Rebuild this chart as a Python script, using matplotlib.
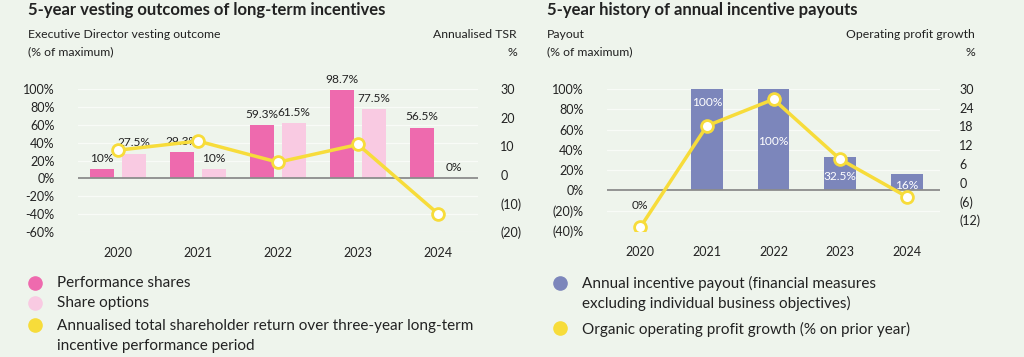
import matplotlib
matplotlib.use("Agg")
import matplotlib.pyplot as plt
import numpy as np

plt.rcParams["font.family"] = ["Lato", "DejaVu Sans"]

# Data
years = ["2020", "2021", "2022", "2023", "2024"]
perf_shares = [10, 29.3, 59.3, 98.7, 56.5]
share_options = [27.5, 10, 61.5, 77.5, 0]
tsr = [8.6, 11.8, 4.4, 10.6, -13.6]

payout = [0, 100, 100, 32.5, 16]
profit_growth = [-14.3, 18.2, 26.7, 7.5, -4.5]

left_ticks = [100, 80, 60, 40, 20, 0, -20, -40, -60]
left_ticklabels = ["100%", "80%", "60%", "40%", "20%", "0%", "-20%", "-40%", "-60%"]
tsr_ticks = [30, 20, 10, 0, -10, -20]
tsr_ticklabels = ["30", "20", "10", "0", "(10)", "(20)"]

right_ticks = [100, 80, 60, 40, 20, 0, -20, -40]
right_ticklabels = ["100%", "80%", "60%", "40%", "20%", "0%", "(20)%", "(40)%"]
growth_ticks = [30, 24, 18, 12, 6, 0, -6, -12]
growth_ticklabels = ["30", "24", "18", "12", "6", "0", "(6)", "(12)"]

# Colours
BG = "#eef4ec"
PINK = "#ee6aae"
LIGHT_PINK = "#f9cae2"
YELLOW = "#f7dc3a"
BLUE = "#7c86bb"
TEXT = "#222222"
GRID = "#f8fbf7"
ZERO = "#8c8c8c"

W, H = 1024, 357
fig = plt.figure(figsize=(W / 100, H / 100), dpi=100, facecolor=BG)


def fx(px):
    return px / W


def fy(py):
    return 1 - py / H


def axes_px(x0, x1, y0, y1):
    return fig.add_axes([fx(x0), fy(y1), fx(x1 - x0), (y1 - y0) / H])


def style_axes(ax, ax2, ticks, labels, ticks2, labels2, pad_l, pad_r):
    for a in (ax, ax2):
        a.set_facecolor("none")
        for s in a.spines.values():
            s.set_visible(False)
    ax.set_yticks(ticks)
    ax.set_yticklabels(labels)
    ax2.set_yticks(ticks2)
    ax2.set_yticklabels(labels2)
    ax.tick_params(axis="y", length=0, pad=pad_l, labelsize=9, labelcolor=TEXT)
    ax2.tick_params(axis="y", length=0, pad=pad_r, labelsize=9, labelcolor=TEXT)
    ax.tick_params(axis="x", length=0, pad=11, labelsize=9, labelcolor=TEXT)
    for t in ticks:
        if t == 0:
            ax.axhline(0, color=ZERO, lw=1.3, zorder=3)
        else:
            ax.axhline(t, color=GRID, lw=0.9, zorder=0)


x = np.arange(len(years))

# ---------- Left chart ----------
ax = axes_px(78, 478, 89, 232)
ax.set_xlim(-0.5, 4.5)
ax.set_ylim(-60, 100)
ax.bar(x - 0.2, perf_shares, width=0.3, color=PINK, lw=0, zorder=2)
ax.bar(x + 0.2, share_options, width=0.3, color=LIGHT_PINK, lw=0, zorder=2)
ax.set_xticks(x)
ax.set_xticklabels(years)
for i in range(len(years)):
    ax.annotate(f"{perf_shares[i]:g}%", (x[i] - 0.2, perf_shares[i]), xytext=(0, 4),
                textcoords="offset points", ha="center", va="bottom", fontsize=8.6, color=TEXT, zorder=5)
    ax.annotate(f"{share_options[i]:g}%", (x[i] + 0.2, share_options[i]), xytext=(0, 4),
                textcoords="offset points", ha="center", va="bottom", fontsize=8.6, color=TEXT, zorder=5)

ax2 = ax.twinx()
ax2.set_ylim(-20, 30)
ax2.plot(x, tsr, color=YELLOW, lw=2.5, marker="o", ms=8.5, mfc="white", mec=YELLOW, mew=2, zorder=4)
style_axes(ax, ax2, left_ticks, left_ticklabels, tsr_ticks, tsr_ticklabels, 17, 16)

# ---------- Right chart ----------
bx = axes_px(607, 940, 89, 231)
bx.set_xlim(-0.5, 4.5)
bx.set_ylim(-40, 100)
bx.bar(x, payout, width=0.48, color=BLUE, lw=0, zorder=2)
bx.set_xticks(x)
bx.set_xticklabels(years)
# label offsets (points from bar top) chosen to avoid the line
label_offsets = [-11, -10, -38, -14, -8]
for i in range(len(years)):
    c = TEXT if payout[i] == 0 else "white"
    bx.annotate(f"{payout[i]:g}%", (x[i], payout[i]), xytext=(0, label_offsets[i]),
                textcoords="offset points", ha="center", va="center", fontsize=8.6, color=c, zorder=5)

bx2 = bx.twinx()
bx2.set_ylim(-15.5, 30)
bx2.plot(x, profit_growth, color=YELLOW, lw=2.5, marker="o", ms=8.5, mfc="white", mec=YELLOW, mew=2, zorder=4)
style_axes(bx, bx2, right_ticks, right_ticklabels, growth_ticks, growth_ticklabels, 17, 14)

# ---------- Titles and axis captions ----------
fig.text(fx(28), fy(10), "5-year vesting outcomes of long-term incentives", fontsize=12,
         fontweight="bold", color=TEXT, va="center")
fig.text(fx(547), fy(10), "5-year history of annual incentive payouts", fontsize=12,
         fontweight="bold", color=TEXT, va="center")

cap = dict(fontsize=8.8, color=TEXT, va="center")
fig.text(fx(28), fy(35), "Executive Director vesting outcome", **cap)
fig.text(fx(28), fy(52), "(% of maximum)", **cap)
fig.text(fx(517), fy(35), "Annualised TSR", ha="right", **cap)
fig.text(fx(517), fy(52), "%", ha="right", **cap)
fig.text(fx(547), fy(35), "Payout", **cap)
fig.text(fx(547), fy(52), "(% of maximum)", **cap)
fig.text(fx(975), fy(35), "Operating profit growth", ha="right", **cap)
fig.text(fx(975), fy(52), "%", ha="right", **cap)

# ---------- Legends ----------
leg = dict(fontsize=11, color=TEXT, va="center")


def dot(px, py, color):
    fig.add_artist(plt.Line2D([fx(px)], [fy(py)], marker="o", ms=9.5, color=color,
                              transform=fig.transFigure))


dot(35, 283, PINK)
fig.text(fx(57), fy(283), "Performance shares", **leg)
dot(35, 303, LIGHT_PINK)
fig.text(fx(57), fy(303), "Share options", **leg)
dot(35, 325, YELLOW)
fig.text(fx(57), fy(326), "Annualised total shareholder return over three-year long-term", **leg)
fig.text(fx(57), fy(346), "incentive performance period", **leg)

dot(560, 283, BLUE)
fig.text(fx(582), fy(283), "Annual incentive payout (financial measures", **leg)
fig.text(fx(582), fy(303), "excluding individual business objectives)", **leg)
dot(560, 328, YELLOW)
fig.text(fx(582), fy(329), "Organic operating profit growth (% on prior year)", **leg)

fig.savefig("out.png", dpi=100, facecolor=BG)
